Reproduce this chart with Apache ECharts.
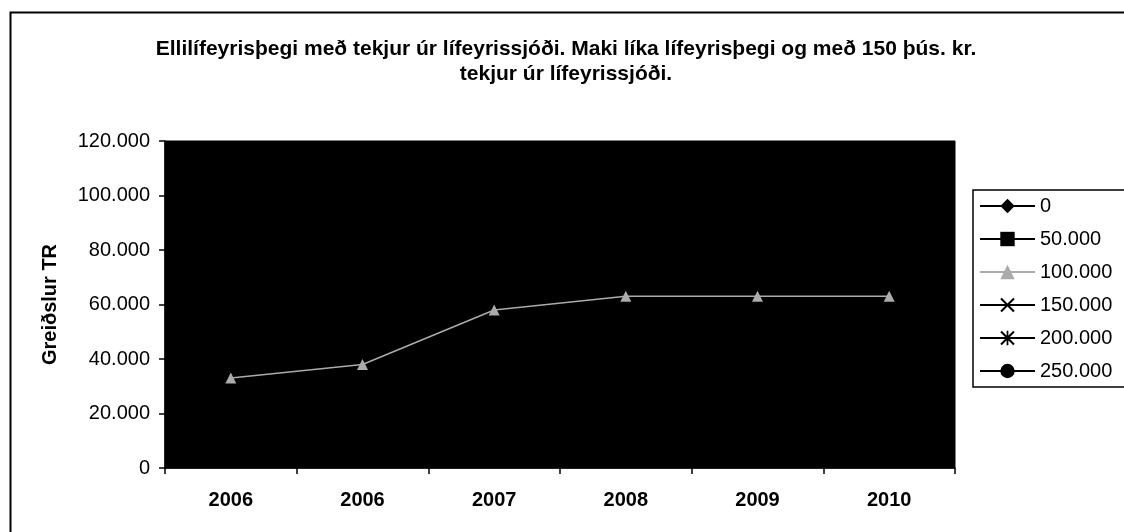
<!DOCTYPE html>
<html>
<head>
<meta charset="utf-8">
<script src="https://cdn.jsdelivr.net/npm/echarts@6/dist/echarts.min.js"></script>
<style>
  html, body { margin: 0; padding: 0; background: #fff; }
  #chart { width: 1124px; height: 532px; }
</style>
</head>
<body>
<div id="chart"></div>
<script>
// Categories as printed on the x axis (2006 appears twice in the source)
const years = ['2006', '2006', '2007', '2008', '2009', '2010'];
const yTicks = { min: 0, max: 120000, interval: 20000 };

// Only the 100.000 series can be read; the black series vanish into the black plot area
const s0 = [null, null, null, null, null, null];
const s50 = [null, null, null, null, null, null];
const s100 = [33000, 38000, 58000, 63000, 63000, 63000];
const s150 = [null, null, null, null, null, null];
const s200 = [null, null, null, null, null, null];
const s250 = [null, null, null, null, null, null];

const seriesNames = ['0', '50.000', '100.000', '150.000', '200.000', '250.000'];

const FONT = '"Liberation Sans", Arial, sans-serif';
const crossPath = 'path://M0,1L1,0L5,4L9,0L10,1L6,5L10,9L9,10L5,6L1,10L0,9L4,5Z';
const starPath = 'path://M0,1L1,0L5,4L9,0L10,1L6,5L10,9L9,10L5,6L1,10L0,9L4,5Z M4.4,0H5.6V10H4.4Z';

function fmt(v) {
    return String(v).replace(/\B(?=(\d{3})+(?!\d))/g, '.');
}

function lineSeries(name, data, color, symbol, size) {
    return {
        name: name,
        type: 'line',
        data: data,
        symbol: symbol,
        symbolSize: size,
        showAllSymbol: true,
        connectNulls: false,
        lineStyle: { color: color, width: 1.5 },
        itemStyle: { color: color },
        emphasis: { disabled: true }
    };
}

const chart = echarts.init(document.getElementById('chart'));
const option = {
    animation: false,
    backgroundColor: '#fff',
    textStyle: { fontFamily: FONT },
    graphic: [{
        type: 'rect',
        left: 8, top: 10,
        shape: { width: 1200, height: 600 },
        style: { fill: 'none', stroke: '#000', lineWidth: 2 },
        silent: true
    }],
    title: {
        text: 'Ellilífeyrisþegi með tekjur úr lífeyrissjóði. Maki líka lífeyrisþegi og með 150 þús. kr.\ntekjur úr lífeyrissjóði.',
        left: 561,
        top: 32,
        textAlign: 'center',
        textStyle: { fontFamily: FONT, fontSize: 21, fontWeight: 'bold', color: '#000', lineHeight: 25 }
    },
    legend: {
        data: seriesNames,
        orient: 'vertical',
        left: 973,
        top: 190,
        width: 150,
        padding: [6, 30, 6, 6],
        itemGap: 13,
        itemWidth: 55,
        itemHeight: 18,
        borderColor: '#000',
        borderWidth: 1.5,
        backgroundColor: '#fff',
        textStyle: { fontFamily: FONT, fontSize: 20, lineHeight: 20, color: '#000' }
    },
    grid: {
        left: 165, right: 169, top: 141, bottom: 64,
        show: true,
        backgroundColor: '#000',
        borderColor: '#000',
        containLabel: false
    },
    xAxis: {
        type: 'category',
        data: years,
        boundaryGap: true,
        axisLine: { lineStyle: { color: '#000', width: 1.5 } },
        axisTick: { show: true, length: 6, lineStyle: { color: '#000', width: 1.5 } },
        axisLabel: { color: '#000', fontFamily: FONT, fontSize: 20, fontWeight: 'bold', margin: 22 },
        splitLine: { show: false }
    },
    yAxis: {
        type: 'value',
        min: yTicks.min,
        max: yTicks.max,
        interval: yTicks.interval,
        name: 'Greiðslur TR',
        nameLocation: 'middle',
        nameGap: 105,
        nameRotate: 90,
        nameTextStyle: { color: '#000', fontFamily: FONT, fontSize: 20, fontWeight: 'bold' },
        axisLine: { show: true, lineStyle: { color: '#000', width: 1.5 } },
        axisTick: { show: true, length: 6, lineStyle: { color: '#000', width: 1.5 } },
        axisLabel: { color: '#000', fontFamily: FONT, fontSize: 20, margin: 15, formatter: fmt },
        splitLine: { show: false }
    },
    series: [
        lineSeries('0', s0, '#000', 'diamond', 14),
        lineSeries('50.000', s50, '#000', 'rect', 12),
        lineSeries('100.000', s100, '#ababab', 'triangle', 11),
        lineSeries('150.000', s150, '#000', crossPath, 12),
        lineSeries('200.000', s200, '#000', starPath, 12),
        lineSeries('250.000', s250, '#000', 'circle', 13)
    ]
};
chart.setOption(option);
window.addEventListener('resize', () => chart.resize());
</script>
</body>
</html>
